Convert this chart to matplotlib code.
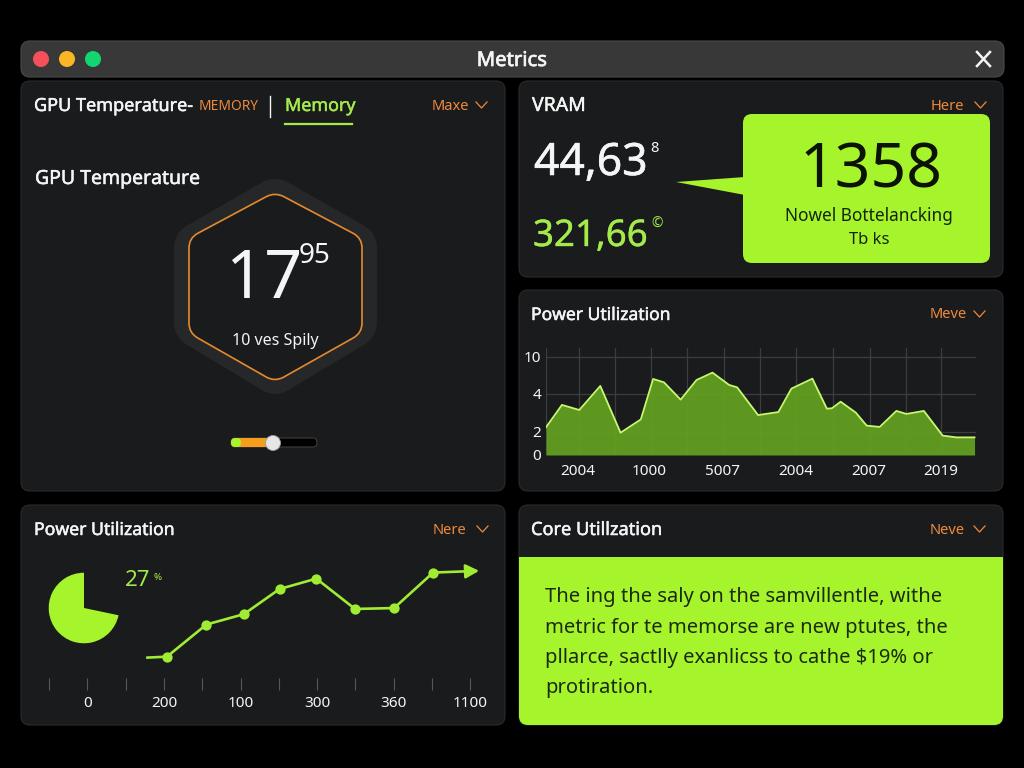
import numpy as np
import matplotlib
matplotlib.use("Agg")
import matplotlib.pyplot as plt
import matplotlib.patheffects as pe
from matplotlib.path import Path
from matplotlib.patches import PathPatch, Circle, Polygon

plt.rcParams['font.family'] = ['Noto Sans', 'DejaVu Sans']

# ---- data ----
area_x = [-0.46, -0.24, 0.0, 0.29, 0.57, 0.85, 1.02, 1.17, 1.40, 1.62, 1.84, 2.07, 2.18, 2.47, 2.75,
          2.93, 3.22, 3.42, 3.49, 3.61, 3.82, 3.97, 4.15, 4.38, 4.52, 4.76, 5.02, 5.21, 5.46]
area_y = [2.23, 3.42, 3.15, 5.29, 1.91, 2.65, 6.41, 5.87, 3.70, 6.25, 7.43, 5.45, 5.07, 2.88, 3.04,
          4.86, 6.46, 3.22, 3.24, 3.59, 3.01, 2.32, 2.25, 3.10, 2.94, 3.10, 1.66, 1.51, 1.51]
area_xticks = [-0.02, 0.97, 1.98, 2.99, 4.0, 4.99]
area_xlabels = ['2004', '1000', '5007', '2004', '2007', '2019']
area_xgrid = [-0.46, 0.0, 0.49, 0.99, 1.49, 2.0, 2.49, 3.0, 3.51, 4.01, 4.51, 5.0]
area_yticks = [0, 2, 4, 10]
area_ylabels = ['0', '2', '4', '10']

line_x = [2.57, 3.08, 4.11, 5.09, 6.02, 6.98, 7.99, 9.01, 10.03]
line_y = [0.8, 1.9, 39, 51, 80, 92, 57, 58, 99]
arrow_end = (11.23, 101)
line_ticks = list(range(12))
line_labels = ['', '0', '', '200', '', '100', '', '300', '', '360', '', '1100']
pie_values = [71.7, 28.3]
pie_label = '27'

BLACK = '#000000'
PANEL = '#1a1b1d'
LIME = '#a6f52c'
GREEN_TXT = '#a3ea4a'
LINE_GREEN = '#a0ec33'
ORANGE = '#ee8a3c'
WHITE = '#f5f5f5'

fig = plt.figure(figsize=(10.24, 7.68), dpi=100, facecolor=BLACK)
bg = fig.add_axes([0, 0, 1, 1])
bg.set_xlim(0, 1024)
bg.set_ylim(768, 0)
bg.axis('off')


def rounded(verts, radii):
    n = len(verts)
    if np.isscalar(radii):
        radii = [radii] * n
    codes, pts = [], []
    for i in range(n):
        p = np.array(verts[i], float)
        a = np.array(verts[i - 1], float)
        b = np.array(verts[(i + 1) % n], float)
        r = radii[i]
        s = p + (a - p) / np.linalg.norm(a - p) * r
        e = p + (b - p) / np.linalg.norm(b - p) * r
        codes += [Path.MOVETO if i == 0 else Path.LINETO, Path.CURVE3, Path.CURVE3]
        pts += [s, p, e]
    codes.append(Path.CLOSEPOLY)
    pts.append(pts[0])
    return Path(pts, codes)


def rrect(x0, y0, x1, y1, r=9, **kw):
    p = PathPatch(rounded([(x0, y0), (x1, y0), (x1, y1), (x0, y1)], r), **kw)
    bg.add_patch(p)
    return p


def panel(x0, y0, x1, y1):
    rrect(x0, y0, x1, y1, fc=PANEL, ec='#2a2b2d', lw=0.8)


def txt(x, y, s, size, color=WHITE, ha='left', va='center', bold=0.0, **kw):
    if va == 'center':
        y = y + 2
    t = bg.text(x, y, s, fontsize=size, color=color, ha=ha, va=va, **kw)
    if bold:
        t.set_path_effects([pe.withStroke(linewidth=bold, foreground=color)])
    return t


def menu(x, y, label):
    txt(x, y - 1, label, 10.6, ORANGE)
    cx = x + 49.5
    bg.plot([cx - 5.5, cx, cx + 5.5], [y - 3, y + 3, y - 3], color=ORANGE, lw=0.9)


def axes_px(l, t, r, b):
    ax = fig.add_axes([l / 1024, 1 - b / 768, (r - l) / 1024, (b - t) / 768])
    ax.patch.set_alpha(0)
    for s in ax.spines.values():
        s.set_visible(False)
    return ax


# ---- title bar ----
rrect(21, 41, 1004, 77, r=9, fc='#383838', ec='#4a4a4a', lw=0.8)
for cx, c in zip([41, 67, 93], ['#f4505a', '#fdb623', '#12d66e']):
    bg.add_patch(Circle((cx, 59), 8, fc=c, ec='none'))
txt(512, 59, 'Metrics', 14.6, ha='center', bold=0.5)
bg.plot([977, 990], [52, 66], color=WHITE, lw=1.8)
bg.plot([977, 990], [66, 52], color=WHITE, lw=1.8)

# ---- panels ----
panel(21, 81, 505, 491)
panel(519, 81, 1003, 277)
panel(519, 290, 1003, 491)
panel(21, 505, 505, 725)
panel(519, 505, 1003, 725)

# ---- temperature panel ----
txt(34, 104, 'GPU Temperature-', 13, bold=0.35)
txt(199, 105, 'MEMORY', 9.9, ORANGE)
bg.plot([270, 270], [96, 117], color=WHITE, lw=1)
txt(285, 104, 'Memory', 12.9, GREEN_TXT, bold=0.35)
bg.plot([285, 352], [124, 124], color=GREEN_TXT, lw=1.6)
menu(432, 105, 'Maxe')
txt(35, 177, 'GPU Temperature', 14, bold=0.35)

hex_out = [(275, 175), (377, 233), (377, 337), (275, 398), (174, 337), (174, 233)]
hex_in = [(275, 192), (362, 238), (362, 333), (275, 382), (189, 333), (189, 238)]
bg.add_patch(PathPatch(rounded(hex_out, 15), fc='#262729', ec='none'))
bg.add_patch(PathPatch(rounded(hex_in, 10), fc=PANEL, ec='#e58a2e', lw=1.2))
txt(226, 298, '17', 48, va='baseline')
txt(299, 254, '95', 20)
txt(275, 339, '10 ves Spily', 11.5, ha='center')

# slider
rrect(231, 438, 317, 447, r=4.4, fc='#000000', ec='#444444', lw=0.7)
rrect(231, 438, 273, 447, r=4.4, fc='#f59e1c', ec='none')
rrect(231, 438, 241, 447, r=4.4, fc=LIME, ec='none')
bg.add_patch(Circle((273, 443), 7.5, fc='#e6e6e6', ec='#9a9a9a', lw=0.6))

# ---- VRAM panel ----
txt(532, 104, 'VRAM', 14, bold=0.3)
menu(931, 105, 'Here')
txt(534, 175, '44,63', 32, va='baseline', bold=0.4)
txt(650, 146, '8', 10.5)
txt(533, 246, '321,66', 26.4, GREEN_TXT, va='baseline', bold=0.3)
txt(651, 222, '©', 10, GREEN_TXT)
bg.add_patch(Polygon([(676, 182), (745, 177), (745, 195)], fc=LIME, ec='none'))
rrect(743, 114, 990, 263, r=9, fc=LIME, ec='none')
txt(871, 188, '1358', 45, '#0c1204', ha='center', va='baseline')
txt(869, 214, 'Nowel Bottelancking', 12.4, '#16240a', ha='center')
txt(869, 238, 'Tb ks', 12, '#16240a', ha='center')

# ---- area chart panel ----
txt(531, 313, 'Power Utilization', 12.6, bold=0.35)
menu(930, 314, 'Meve')
h_data = [0, 2, 4, 10, 11.34]
h_px = [0, 70, 183, 295, 320]
ax = axes_px(546, 348.3, 976, 455)
ax.set_yscale('function', functions=(lambda v: np.interp(v, h_data, h_px),
                                     lambda v: np.interp(v, h_px, h_data)))
ax.set_xlim(-0.46, 5.48)
ax.set_ylim(0, 11.34)
ax.set_axisbelow(True)
ax.set_xticks(area_xticks, area_xlabels)
ax.set_xticks(area_xgrid, minor=True)
ax.set_yticks(area_yticks, area_ylabels)
ax.yaxis.set_minor_locator(matplotlib.ticker.NullLocator())
ax.grid(True, axis='x', which='minor', color='#3b3d40', lw=0.9)
ax.grid(True, axis='y', which='major', color='#3b3d40', lw=0.9)
ax.tick_params(which='both', length=0, colors=WHITE)
ax.tick_params(axis='x', labelsize=11, pad=6.2)
ax.tick_params(axis='y', labelsize=11, pad=3.6)
ax.fill_between(area_x, area_y, 0, color='#629f20', alpha=0.95, lw=0)
ax.plot(area_x, area_y, color='#c8f870', lw=1.3)

# ---- line panel ----
txt(34, 528, 'Power Utilization', 12.7, bold=0.35)
menu(433, 529, 'Nere')
pie_ax = axes_px(48, 572, 120, 644)
pie_ax.pie(pie_values, startangle=90, colors=[LIME, 'none'], radius=1.0,
           wedgeprops=dict(lw=0))
pie_ax.set_xlim(-1.02, 1.02)
pie_ax.set_ylim(-1.02, 1.02)
txt(125, 579, pie_label, 16, GREEN_TXT)
txt(153, 575, '%', 7, GREEN_TXT)

lax = axes_px(49, 560, 480, 690)
lax.set_xlim(0, 431 / 38.3)
# y=0 at pixel 658.3, y=100 at pixel 571.7
lax.set_ylim((658.3 - 690) / 0.866, (658.3 - 560) / 0.866)
lax.set_yticks([])
lax.set_xticks(line_ticks, line_labels)
lax.tick_params(axis='x', direction='in', length=8.6, width=0.8, color='#55575a',
                labelcolor=WHITE, labelsize=11, pad=4.2)
lax.plot(line_x[:2], line_y[:2], color=LINE_GREEN, lw=1.9, clip_on=False)
lax.plot(line_x[1:], line_y[1:], color=LINE_GREEN, lw=1.9, marker='o', ms=7.4,
         mfc=LINE_GREEN, mec='none', clip_on=False)
lax.annotate('', xy=arrow_end, xytext=(line_x[-1], line_y[-1]),
             arrowprops=dict(arrowstyle='-|>,head_length=0.8,head_width=0.42', color=LINE_GREEN,
                             lw=1.9, shrinkA=0, shrinkB=0))

# ---- note panel ----
txt(531, 528, 'Core Utillzation', 13.1, bold=0.35)
menu(930, 529, 'Neve')
lime_verts = [(519, 557), (1003, 557), (1003, 725), (519, 725)]
bg.add_patch(PathPatch(rounded(lime_verts, [0.01, 0.01, 9, 9]), fc=LIME, ec='none'))
note = ['The ing the saly on the samvillentle, withe',
        'metric for te memorse are new ptutes, the',
        'pllarce, sactlly exanlicss to cathe $19% or',
        'protiration.']
for i, line in enumerate(note):
    txt(545, 595 + i * 30.5, line.replace('$', r'\$'), 14.5, '#1c2a10')

fig.savefig('out.png', dpi=100, facecolor=BLACK)
